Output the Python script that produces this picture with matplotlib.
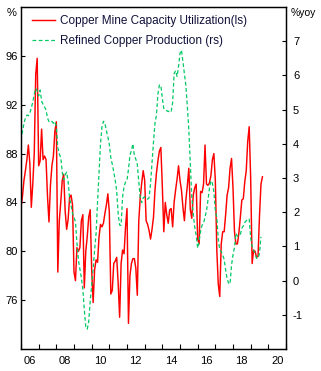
import numpy as np
import matplotlib
matplotlib.use("Agg")
from matplotlib import pyplot as plt
from matplotlib.ticker import FixedLocator, NullFormatter, FixedFormatter

plt.rcParams['font.family'] = ['Liberation Sans', 'DejaVu Sans']
plt.rcParams['axes.unicode_minus'] = False

# monthly data starting Jan 2006
start_year = 2006

mine_util = [83.6, 84.5, 85.8, 86.6, 87.5, 88.7, 87.2, 83.6, 85.5, 88.0,
             94.5, 95.8, 87.0, 87.4, 90.0, 87.5, 87.8, 87.5, 84.5, 82.4,
             85.4, 87.0, 87.8, 89.8, 90.6, 78.3, 82.5, 84.0, 85.8, 86.3,
             83.3, 81.8, 82.6, 84.4, 84.6, 83.8, 78.3, 77.6, 80.3, 80.0,
             80.3, 82.5, 83.0, 77.0, 80.0, 81.2, 82.8, 83.4, 78.5, 75.8,
             78.5, 79.3, 79.1, 81.2, 82.2, 82.0, 82.3, 83.1, 83.8, 84.7,
             83.2, 76.5, 76.8, 79.0, 79.2, 79.5, 77.4, 74.6, 79.0, 80.1,
             79.8, 82.0, 83.5, 74.1, 78.0, 79.0, 79.4, 79.4, 78.6, 76.4,
             82.5, 84.4, 85.6, 86.6, 85.8, 82.5, 82.2, 81.7, 81.0, 81.8,
             82.8, 85.0, 86.4, 87.4, 88.2, 88.5, 85.3, 81.6, 84.0, 83.0,
             82.3, 83.4, 83.5, 82.0, 84.0, 85.0, 85.9, 87.0, 85.8, 85.0,
             83.6, 82.5, 84.2, 85.4, 86.8, 83.4, 82.7, 84.6, 85.2, 85.5,
             81.0, 80.6, 84.9, 84.8, 85.5, 88.7, 85.5, 85.4, 85.6, 86.2,
             87.5, 88.0, 85.8, 80.1, 77.3, 76.3, 80.6, 81.6, 81.6, 83.0,
             84.6, 85.2, 86.8, 87.6, 85.2, 81.6, 80.6, 80.6, 81.5, 82.8,
             84.2, 84.3, 85.7, 86.6, 89.0, 90.2, 86.0, 79.0, 80.1, 80.0,
             79.5, 79.6, 82.9, 85.5, 86.1]

refined_prod = [4.1, 4.35, 4.6, 4.75, 4.84, 4.82, 4.9, 5.05, 5.22, 5.45,
                5.62, 5.55, 5.40, 5.57, 5.25, 5.15, 5.08, 4.99, 4.75, 4.65,
                4.68, 4.65, 4.6, 4.65, 4.5, 3.9, 3.7, 3.6, 3.18, 2.95,
                3.1, 3.17, 2.9, 2.4, 2.2, 1.97, 1.85, 1.72, 1.1, 0.6,
                0.33, 0.08, -0.25, -0.85, -1.35, -1.42, -1.2, -0.6, -0.15, 0.33,
                0.9, 1.38, 2.3, 3.15, 4.0, 4.5, 4.66, 4.6, 4.38, 4.2,
                3.98, 3.6, 3.4, 3.18, 2.93, 2.62, 1.95, 1.62, 1.62, 2.45,
                2.75, 2.88, 2.94, 3.25, 3.67, 3.8, 4.0, 3.65, 3.55, 3.4,
                2.9, 2.4, 2.28, 2.42, 2.45, 2.4, 2.38, 2.42, 2.85, 3.45,
                4.05, 4.6, 4.84, 5.45, 5.72, 5.7, 5.33, 5.03, 4.98, 4.97,
                4.94, 4.97, 4.94, 5.2, 6.05, 6.14, 5.97, 6.25, 6.65, 6.74,
                6.4, 6.05, 5.7, 5.08, 4.4, 3.4, 2.45, 1.95, 1.57, 1.32,
                0.95, 1.15, 1.45, 1.62, 1.68, 1.85, 2.05, 2.35, 2.7, 2.92,
                2.85, 2.6, 2.05, 1.85, 1.2, 0.9, 0.85, 0.75, 0.62, 0.31,
                0.05, -0.07, -0.1, 0.45, 0.75, 0.97, 1.38, 1.3, 1.3, 1.35,
                1.53, 1.6, 1.7, 1.75, 1.8, 1.8, 1.25, 1.0, 0.88, 0.8,
                0.65, 0.65, 0.8, 1.28]

left_ticks = [76, 80, 84, 88, 92, 96]
right_ticks = [-1, 0, 1, 2, 3, 4, 5, 6, 7]
year_labels = ['06', '08', '10', '12', '14', '16', '18', '20']

t_red = start_year + np.arange(len(mine_util)) / 12.0
t_green = start_year + np.arange(len(refined_prod)) / 12.0

fig = plt.figure(figsize=(3.21, 3.71), dpi=100)
ax = fig.add_axes([21 / 321, 1 - 349 / 371, 265 / 321, 342 / 371])
ax2 = ax.twinx()

red_line, = ax.plot(t_red, mine_util, color='#ff0000', lw=1.05)
green_line, = ax2.plot(t_green, refined_prod, color='#00c864', lw=0.9,
                       dashes=(3, 2))

ax.set_xlim(2006, 2021)
ax.set_ylim(72, 100)
ax2.set_ylim(-2, 8)

ax.set_yticks(left_ticks)
ax2.set_yticks(right_ticks)

ax.xaxis.set_major_locator(FixedLocator(np.arange(2006, 2022)))
ax.xaxis.set_major_formatter(NullFormatter())
ax.xaxis.set_minor_locator(FixedLocator(np.arange(2006.5, 2021, 2)))
ax.xaxis.set_minor_formatter(FixedFormatter(year_labels))

ax.tick_params(axis='x', which='major', direction='in', length=3.5, width=0.8)
ax.tick_params(axis='x', which='minor', length=0, pad=5, labelsize=8)
ax.tick_params(axis='y', direction='in', length=3, width=0.8, pad=2,
               labelsize=8)
ax2.tick_params(axis='y', direction='in', length=3, width=0.8, pad=5,
                labelsize=8)

for a in (ax, ax2):
    for s in a.spines.values():
        s.set_linewidth(0.9)

fig.text(12 / 321, 1 - 13 / 371, '%', fontsize=8, ha='center', va='center')
fig.text(303 / 321, 1 - 13 / 371, '%yoy', fontsize=7.5, ha='center',
         va='center')

leg = ax2.legend([red_line, green_line],
                 ['Copper Mine Capacity Utilization(ls)',
                  'Refined Copper Production (rs)'],
                 loc='upper left', bbox_to_anchor=(0.04, 0.977),
                 frameon=False, fontsize=8.5, handlelength=1.95,
                 handletextpad=0.45, labelspacing=0.72, borderpad=0,
                 borderaxespad=0)
for txt in leg.get_texts():
    txt.set_color('#10103a')

fig.savefig('out.png', dpi=100)
